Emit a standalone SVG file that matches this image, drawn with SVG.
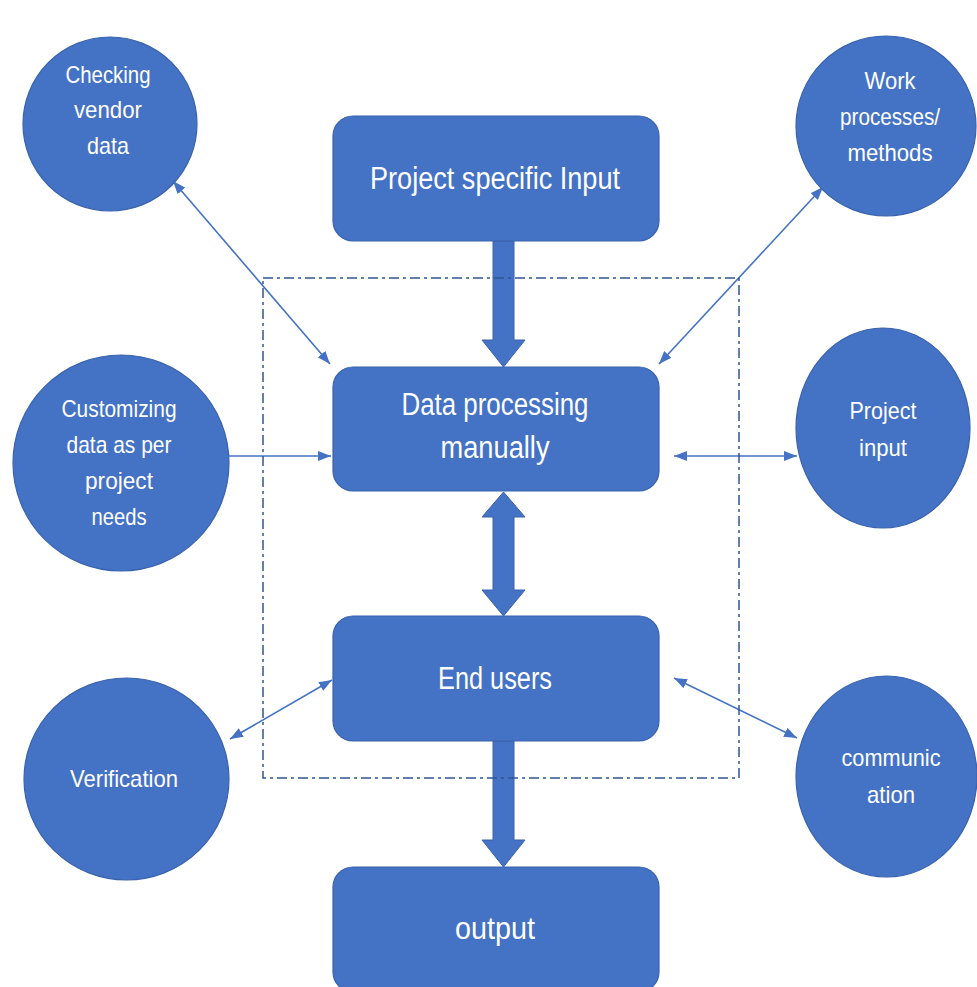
<svg xmlns="http://www.w3.org/2000/svg" width="977" height="987" viewBox="0 0 977 987">
  <style>
    .box { fill: #4472C4; stroke: #3A63AD; stroke-width: 1.2; }
    .bubble { fill: #4472C4; stroke: #3A63AD; stroke-width: 1.2; }
    .block { fill: #4472C4; stroke: #3A63AD; stroke-width: 1; }
    .link { fill: none; stroke: #4472C4; stroke-width: 1.6; }
    .frame { fill: none; stroke: #2F5597; stroke-width: 1.5; stroke-dasharray: 10 4 3 4; }
    text { fill: #FFFFFF; font-family: "Liberation Sans", Arial, sans-serif; text-anchor: middle; }
    .big { font-size: 31px; }
    .small { font-size: 24px; }
  </style>
  <defs>
    <marker id="head" markerUnits="userSpaceOnUse" markerWidth="13" markerHeight="10" refX="13" refY="5" orient="auto-start-reverse">
      <path d="M0,0 L13,5 L0,10 Z" fill="#4472C4"/>
    </marker>
  </defs>

  <rect width="977" height="987" fill="#FFFFFF"/>

  <!-- connectors -->
  <g id="connectors">
    <path class="block" d="M493,241 H514 V340 H525 L503.5,367 L482,340 H493 Z"/>
    <path class="block" d="M503.5,492 L525,517 H514 V590 H525 L503.5,616 L482,590 H493 V517 H482 Z"/>
    <path class="block" d="M493,741 H514 V840 H525 L503.5,867 L482,840 H493 Z"/>

    <line class="link" x1="173" y1="181" x2="330" y2="364" marker-start="url(#head)" marker-end="url(#head)"/>
    <line class="link" x1="823" y1="187" x2="659" y2="364" marker-start="url(#head)" marker-end="url(#head)"/>
    <line class="link" x1="229" y1="456" x2="331" y2="456" marker-end="url(#head)"/>
    <line class="link" x1="674" y1="456" x2="797" y2="456" marker-start="url(#head)" marker-end="url(#head)"/>
    <line class="link" x1="230" y1="739" x2="332" y2="680" marker-start="url(#head)" marker-end="url(#head)"/>
    <line class="link" x1="674" y1="678" x2="797" y2="738" marker-start="url(#head)" marker-end="url(#head)"/>
  </g>

  <!-- dash-dot boundary around the processing core -->
  <g id="boundary">
    <rect class="frame" x="263" y="278" width="476" height="500"/>
  </g>

  <!-- central process boxes -->
  <g id="project-specific-input">
    <rect class="box" x="333" y="116" width="326" height="125" rx="20"/>
    <text class="big" x="495" y="189" textLength="250" lengthAdjust="spacingAndGlyphs">Project specific Input</text>
  </g>
  <g id="data-processing">
    <rect class="box" x="333" y="367" width="326" height="124" rx="20"/>
    <text class="big" x="495" y="415" textLength="187" lengthAdjust="spacingAndGlyphs">Data processing</text>
    <text class="big" x="495" y="458" textLength="109" lengthAdjust="spacingAndGlyphs">manually</text>
  </g>
  <g id="end-users">
    <rect class="box" x="333" y="616" width="326" height="125" rx="20"/>
    <text class="big" x="495" y="689" textLength="114" lengthAdjust="spacingAndGlyphs">End users</text>
  </g>
  <g id="output">
    <rect class="box" x="333" y="867" width="326" height="125" rx="20"/>
    <text class="big" x="495" y="939" textLength="80" lengthAdjust="spacingAndGlyphs">output</text>
  </g>

  <!-- surrounding topics -->
  <g id="checking-vendor-data">
    <circle class="bubble" cx="110" cy="124" r="87"/>
    <text class="small" x="108" y="83" textLength="85" lengthAdjust="spacingAndGlyphs">Checking</text>
    <text class="small" x="108" y="118" textLength="68" lengthAdjust="spacingAndGlyphs">vendor</text>
    <text class="small" x="108" y="154" textLength="42" lengthAdjust="spacingAndGlyphs">data</text>
  </g>
  <g id="work-processes">
    <ellipse class="bubble" cx="886" cy="126" rx="90" ry="90"/>
    <text class="small" x="890" y="89" textLength="51" lengthAdjust="spacingAndGlyphs">Work</text>
    <text class="small" x="890" y="125" textLength="100" lengthAdjust="spacingAndGlyphs">processes/</text>
    <text class="small" x="890" y="161" textLength="85" lengthAdjust="spacingAndGlyphs">methods</text>
  </g>
  <g id="customizing-data">
    <circle class="bubble" cx="121" cy="463" r="108"/>
    <text class="small" x="119" y="417" textLength="115" lengthAdjust="spacingAndGlyphs">Customizing</text>
    <text class="small" x="119" y="453" textLength="105" lengthAdjust="spacingAndGlyphs">data as per</text>
    <text class="small" x="119" y="489" textLength="68" lengthAdjust="spacingAndGlyphs">project</text>
    <text class="small" x="119" y="525" textLength="55" lengthAdjust="spacingAndGlyphs">needs</text>
  </g>
  <g id="project-input">
    <ellipse class="bubble" cx="883" cy="428" rx="87" ry="100"/>
    <text class="small" x="883" y="419" textLength="67" lengthAdjust="spacingAndGlyphs">Project</text>
    <text class="small" x="883" y="456" textLength="48" lengthAdjust="spacingAndGlyphs">input</text>
  </g>
  <g id="verification">
    <ellipse class="bubble" cx="126.5" cy="779" rx="102.5" ry="101"/>
    <text class="small" x="124" y="787" textLength="108" lengthAdjust="spacingAndGlyphs">Verification</text>
  </g>
  <g id="communication">
    <ellipse class="bubble" cx="886.5" cy="776.5" rx="90.5" ry="100.5"/>
    <text class="small" x="891" y="766" textLength="99" lengthAdjust="spacingAndGlyphs">communic</text>
    <text class="small" x="891" y="803" textLength="48" lengthAdjust="spacingAndGlyphs">ation</text>
  </g>
</svg>
